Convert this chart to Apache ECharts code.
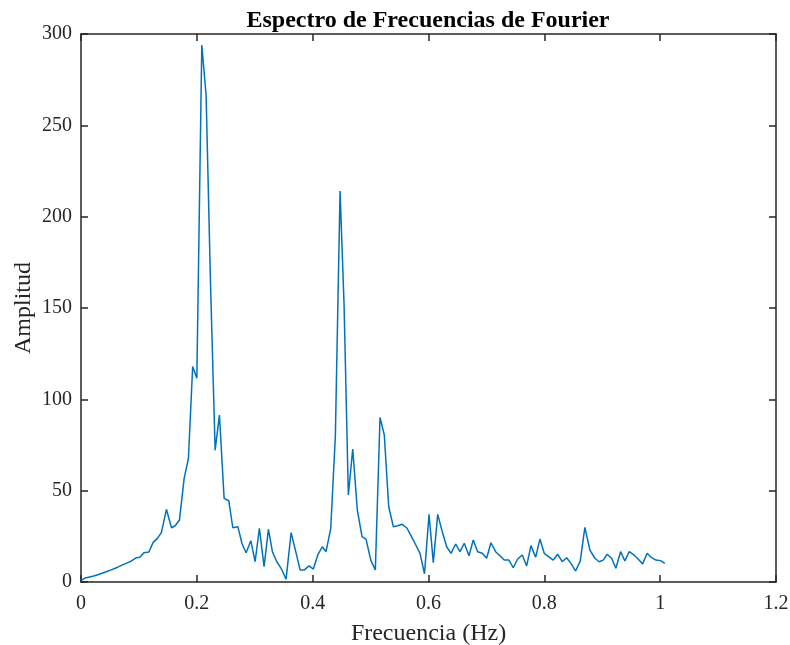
<!DOCTYPE html>
<html>
<head>
<meta charset="utf-8">
<script src="https://cdn.jsdelivr.net/npm/echarts@6/dist/echarts.min.js"></script>
<style>
  html, body { margin: 0; padding: 0; background: #fff; }
</style>
</head>
<body>
<div id="spectrum" style="width: 790px; height: 645px"></div>
<script>
// frecuencias (Hz)
var freqs = [
  0, 0.0072, 0.0145, 0.0217, 0.029, 0.0362, 0.0435, 0.0509, 0.0582, 0.0654,
  0.0726, 0.0799, 0.0871, 0.0958, 0.1016, 0.1085, 0.1172, 0.1246, 0.132, 0.1389,
  0.1475, 0.1562, 0.1626, 0.17, 0.1781, 0.1855, 0.1928, 0.2, 0.2086, 0.216,
  0.2235, 0.2316, 0.239, 0.2471, 0.2552, 0.2621, 0.2708, 0.2782, 0.2851, 0.2932,
  0.3006, 0.308, 0.3161, 0.3236, 0.3305, 0.3381, 0.3455, 0.3541, 0.3628, 0.3708,
  0.3783, 0.3857, 0.3938, 0.4012, 0.4088, 0.4167, 0.4231, 0.4312, 0.4392, 0.4473,
  0.4542, 0.4616, 0.4692, 0.4771, 0.4852, 0.4921, 0.5003, 0.5082, 0.5163, 0.5237,
  0.5313, 0.5393, 0.5468, 0.5543, 0.5624, 0.5693, 0.5772, 0.5853, 0.5931, 0.6009,
  0.6083, 0.6159, 0.6238, 0.6314, 0.6388, 0.6469, 0.6543, 0.6618, 0.6699, 0.6773,
  0.6849, 0.6928, 0.7004, 0.7078, 0.7159, 0.7234, 0.7308, 0.7389, 0.7463, 0.7539,
  0.7619, 0.7695, 0.7769, 0.785, 0.7924, 0.7998, 0.8079, 0.8154, 0.8229, 0.8309,
  0.8385, 0.8459, 0.854, 0.862, 0.87, 0.8787, 0.8873, 0.8947, 0.9016, 0.9085,
  0.9161, 0.9235, 0.9317, 0.9391, 0.9465, 0.9546, 0.962, 0.9696, 0.9776, 0.9852,
  0.9926, 1.0007, 1.0081
];
// amplitudes
var amps = [
  0.8, 2.2, 2.7, 3.3, 4.0, 4.8, 5.6, 6.5, 7.4, 8.4,
  9.5, 10.5, 11.5, 13.3, 13.5, 16, 16.4, 21.7, 23.9, 27.2,
  39.8, 29.7, 30.8, 33.9, 56.7, 67.7, 118, 111.5, 294, 266.5,
  165, 72.2, 91.4, 45.8, 44.5, 29.7, 30.3, 20.8, 16, 22.6,
  11.1, 29.4, 8.4, 28.8, 16.6, 11.1, 7.5, 1.5, 27, 16.6,
  6.6, 6.6, 8.8, 7.1, 14.8, 19.3, 16.6, 29.4, 80, 214,
  152, 47.6, 72.8, 39.4, 24.8, 23.5, 12, 6.6, 90.1, 80.5,
  41.2, 30.3, 30.8, 31.6, 29.7, 25.7, 20.8, 15.7, 4.5, 37,
  10.6, 37, 27.5, 19.3, 15.7, 20.8, 16.6, 21.2, 14.4, 23,
  16.6, 15.7, 13, 21.5, 16.6, 14.4, 12, 12, 7.8, 12.6,
  14.8, 8.8, 19.9, 13.5, 23.5, 15.7, 13.8, 12, 15.2, 11.1,
  13.3, 10.2, 6, 11.4, 29.9, 17.5, 13, 11.1, 12, 15.2,
  13, 7.5, 16.6, 11.5, 16.6, 14.8, 12.6, 9.9, 15.7, 13.3,
  12, 11.7, 10.2
];

var chartDom = document.getElementById("spectrum");
var myChart = echarts.init(chartDom);
var option;

var serif = "Liberation Serif";
var axisColor = "#262626";

var points = [];
for (var i = 0; i < freqs.length; i++) {
  points.push([freqs[i], amps[i]]);
}

function frameAxis(extra) {
  var base = {
    axisLine: { show: true, onZero: false, lineStyle: { color: axisColor, width: 1.5 } },
    axisTick: { show: true, inside: true, length: 7, lineStyle: { color: axisColor, width: 1.5 } },
    splitLine: { show: false },
  };
  return Object.assign(base, extra);
}

option = {
  animation: false,
  backgroundColor: "#ffffff",
  title: {
    text: "Espectro de Frecuencias de Fourier",
    left: 423,
    top: 4,
    textAlign: "center",
    textStyle: { fontFamily: serif, fontWeight: "bold", fontSize: 24, color: "#000" },
  },
  grid: { left: 81, right: 14, top: 34, bottom: 63, outerBoundsMode: "none" },
  xAxis: [
    frameAxis({
      type: "value",
      min: 0,
      max: 1.2,
      interval: 0.2,
      name: "Frecuencia (Hz)",
      nameLocation: "middle",
      nameGap: 40,
      nameMoveOverlap: false,
      nameTextStyle: { fontFamily: serif, fontSize: 24, color: axisColor },
      axisLabel: { fontFamily: serif, fontSize: 20, color: axisColor, margin: 12 },
    }),
    frameAxis({
      type: "value",
      position: "top",
      min: 0,
      max: 1.2,
      interval: 0.2,
      axisLabel: { show: false },
    }),
  ],
  yAxis: [
    frameAxis({
      type: "value",
      min: 0,
      max: 300,
      interval: 50,
      name: "Amplitud",
      nameLocation: "middle",
      nameGap: 45,
      nameMoveOverlap: false,
      nameTextStyle: { fontFamily: serif, fontSize: 24, color: axisColor },
      axisLabel: { fontFamily: serif, fontSize: 20, color: axisColor, margin: 9 },
    }),
    frameAxis({
      type: "value",
      position: "right",
      min: 0,
      max: 300,
      interval: 50,
      axisLabel: { show: false },
    }),
  ],
  series: [
    {
      type: "line",
      xAxisIndex: 0,
      yAxisIndex: 0,
      symbol: "none",
      lineStyle: { color: "#0072BD", width: 1.5 },
      data: points,
    },
  ],
};

option && myChart.setOption(option);
</script>
</body>
</html>
